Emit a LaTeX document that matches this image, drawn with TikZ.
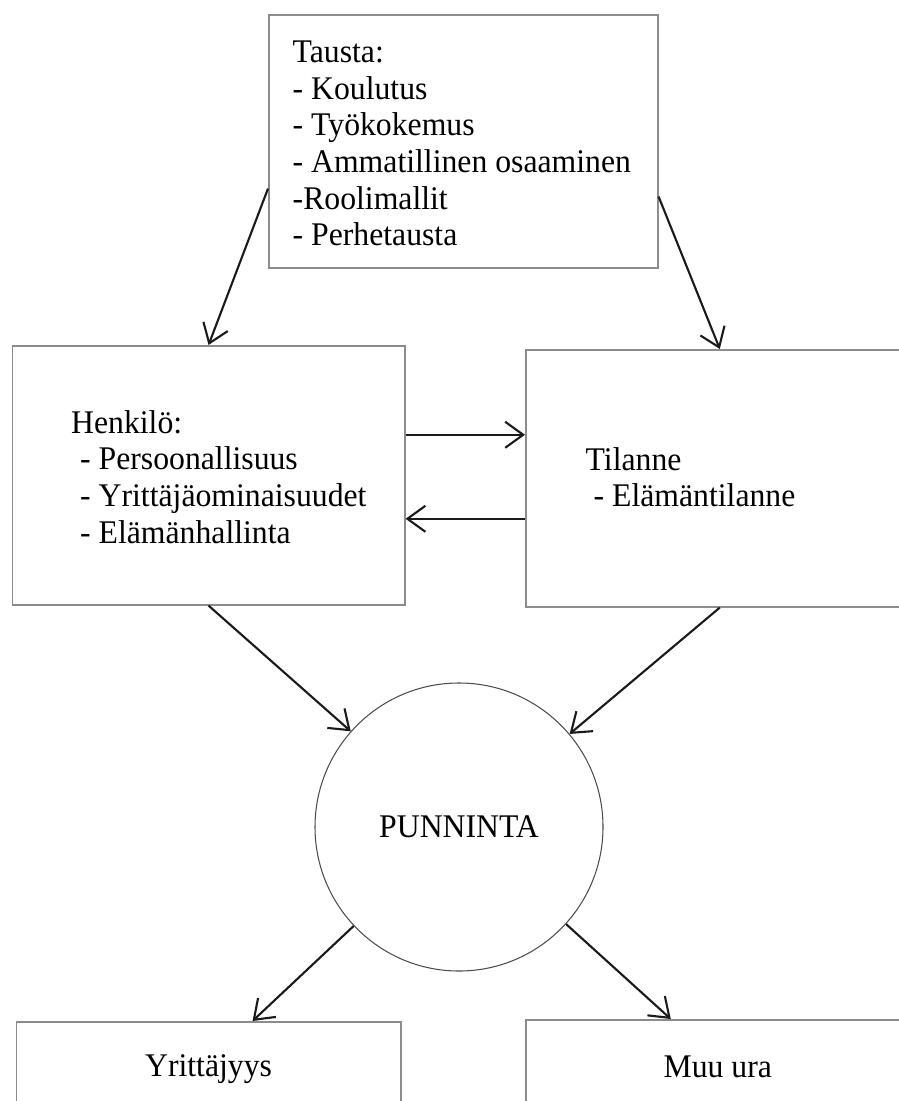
\documentclass[tikz,border=0pt]{standalone}
\usepackage{fontspec}
\setmainfont{Liberation Serif}[FakeStretch=0.96]
\usetikzlibrary{arrows.meta,calc,positioning}
\definecolor{Frame}{HTML}{8C8C8C}
\definecolor{Ink}{HTML}{1A1A1A}

\begin{document}
\begin{tikzpicture}[
    box/.style={draw=Frame,line width=.45pt,minimum width=3.89cm,anchor=north west,inner sep=0pt,font=\fontsize{9.4}{10.45}\selectfont},
    txt/.style={font=\fontsize{9.4}{10.45}\selectfont,align=left,anchor=north west,inner sep=0pt},
    arr/.style={draw=Ink,line width=.6pt,-{Straight Barb[length=1.8mm,width=2.6mm]}}
  ]
  \clip (0,0) rectangle (8.99,-11.01);
  % boxes
  \node[box,minimum height=2.53cm] (tausta) at (2.68,-.14) {};
  \node[box,minimum width=3.925cm,minimum height=2.59cm] (henkilo) at (.115,-3.45) {};
  \node[box,minimum width=3.88cm,minimum height=2.57cm] (tilanne) at (5.25,-3.49) {};
  \node[box,minimum width=3.845cm,minimum height=.94cm] (yrit) at (.155,-10.21) {Yrittäjyys};
  \node[box,minimum width=3.84cm,minimum height=.94cm] (muu) at (5.25,-10.19) {Muu ura};
  \node[draw=black!70,line width=.3pt,circle,minimum size=2.88cm,font=\fontsize{9.4}{10.45}\selectfont] (punninta) at (4.59,-8.27) {PUNNINTA};
  % texts in the boxes
  \node[txt] (taustaTxt) at ($(tausta.north west)+(.24,-.26)$) {Tausta:\\- Koulutus\\- Työkokemus\\- Ammatillinen osaaminen\\-Roolimallit\\- Perhetausta};
  \node[txt] (henkiloTxt) at ($(henkilo.north west)+(.59,-.645)$) {Henkilö:\\\hspace{.9mm}- Persoonallisuus\\\hspace{.9mm}- Yrittäjäominaisuudet\\\hspace{.9mm}- Elämänhallinta};
  \node[txt] (tilanneTxt) at ($(tilanne.north west)+(.60,-.975)$) {Tilanne\\\hspace{.8mm}- Elämäntilanne};
  % arrows
  \draw[arr] ($(tausta.south west)+(0,.8)$) -- (henkilo.north);
  \draw[arr] ($(tausta.south east)+(0,.72)$) -- (tilanne.north);
  \coordinate (hOut) at ($(henkilo.east)+(0,.405)$);
  \coordinate (tOut) at ($(tilanne.west)+(0,-.405)$);
  \draw[arr] (hOut) -- (hOut -| tilanne.west);
  \draw[arr] (tOut) -- (tOut -| henkilo.east);
  \draw[arr] (henkilo.south) -- (punninta);
  \draw[arr] (tilanne.south) -- (punninta);
  \draw[arr] (punninta) -- ($(yrit.north)+(.44,0)$);
  \draw[arr] (punninta) -- ($(muu.north)+(-.47,0)$);
\end{tikzpicture}
\end{document}
